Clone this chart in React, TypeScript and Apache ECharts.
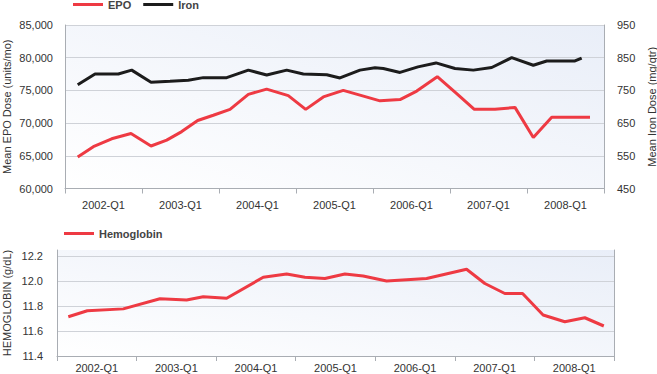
import React, { useEffect, useRef } from "react";
import * as echarts from "echarts";

// Year labels shown under each panel
const yearLabels = ["2002-Q1", "2003-Q1", "2004-Q1", "2005-Q1", "2006-Q1", "2007-Q1", "2008-Q1"];

// EPO (units/mo): [time in decimal years, value]
const epoTime = [2002.165, 2002.368, 2002.606, 2002.857, 2003.117, 2003.321, 2003.516, 2003.723, 2003.926, 2004.143, 2004.381, 2004.619, 2004.9, 2005.126, 2005.355, 2005.614, 2005.853, 2006.091, 2006.351, 2006.568, 2006.835, 2007.087, 2007.316, 2007.584, 2007.844, 2008.082, 2008.321, 2008.558, 2008.818];
const epoValues = [64800, 66400, 67600, 68400, 66500, 67400, 68700, 70400, 71200, 72100, 74400, 75200, 74200, 72100, 74000, 75000, 74200, 73400, 73600, 74900, 77100, 74500, 72100, 72100, 72400, 67800, 70900, 70900, 70900];

// Iron (mg/qtr)
const ironTime = [2002.165, 2002.39, 2002.692, 2002.866, 2003.117, 2003.364, 2003.601, 2003.796, 2004.1, 2004.381, 2004.619, 2004.879, 2005.095, 2005.399, 2005.571, 2005.831, 2006.026, 2006.134, 2006.351, 2006.584, 2006.818, 2007.065, 2007.303, 2007.542, 2007.801, 2008.082, 2008.256, 2008.623, 2008.71];
const ironValues = [767, 800, 800, 812, 775, 778, 781, 789, 789, 812, 797, 812, 800, 798, 788, 812, 819, 817, 805, 822, 834, 817, 812, 820, 850, 827, 840, 840, 849];

// Hemoglobin (g/dL)
const hbTime = [2002.142, 2002.381, 2002.833, 2003.294, 2003.629, 2003.838, 2004.132, 2004.592, 2004.886, 2005.116, 2005.367, 2005.618, 2005.848, 2006.142, 2006.645, 2007.147, 2007.377, 2007.628, 2007.851, 2008.109, 2008.382, 2008.633, 2008.872];
const hbValues = [11.714, 11.762, 11.777, 11.858, 11.848, 11.874, 11.862, 12.03, 12.056, 12.03, 12.02, 12.056, 12.04, 12.0, 12.02, 12.094, 11.98, 11.9, 11.9, 11.728, 11.674, 11.706, 11.64];

const RED = "#ee3a43";
const BLACK = "#1c1c1c";
const TEXT = "#333333";
const AXIS = "#a9adb3";
const GRIDLINE = "#cfd2d8";
const FONT = "Liberation Sans, Arial, Helvetica, sans-serif";

const zip = (xs: number[], ys: number[]) => xs.map((x, i) => [x, ys[i]]);

const bg = () =>
  new echarts.graphic.LinearGradient(0, 1, 1, 0, [
    { offset: 0, color: "#ffffff" },
    { offset: 1, color: "#e9eef8" },
  ]);

export default function App() {
  const ref = useRef<HTMLDivElement>(null);
  useEffect(() => {
    if (!ref.current) return;
    const chart = echarts.init(ref.current, null, { renderer: "svg" });
    const catAxis = (gridIndex: number, margin: number) => ({
      type: "category",
      gridIndex,
      data: yearLabels,
      boundaryGap: true,
      axisLine: { show: true, lineStyle: { color: AXIS, width: 1 } },
      axisTick: { show: true, length: 5, lineStyle: { color: AXIS } },
      axisLabel: { margin, color: TEXT, fontSize: 11, fontFamily: FONT, interval: 0 },
      splitLine: { show: false },
    });
    const valXAxis = (gridIndex: number) => ({
      type: "value",
      gridIndex,
      min: 2002,
      max: 2009,
      show: false,
    });
    const nameStyle = { color: TEXT, fontSize: 11, fontFamily: FONT, lineHeight: 11 };
    chart.setOption({
      animation: false,
      textStyle: { fontFamily: FONT },
      legend: [
        {
          data: ["EPO", "Iron"],
          left: 73,
          top: -1,
          icon: "rect",
          itemWidth: 30,
          itemHeight: 3,
          itemGap: 12,
          padding: 0,
          textStyle: { fontSize: 11, fontWeight: "bold", color: "#444", fontFamily: FONT },
        },
        {
          data: ["Hemoglobin"],
          left: 64,
          top: 228,
          icon: "rect",
          itemWidth: 30,
          itemHeight: 3,
          padding: 0,
          textStyle: { fontSize: 11, fontWeight: "bold", color: "#444", fontFamily: FONT },
        },
      ],
      grid: [
        {
          left: 65,
          right: 53,
          top: 25,
          height: 163.5,
          show: true,
          borderWidth: 0,
          backgroundColor: bg(),
          containLabel: false,
          outerBoundsMode: "none",
        },
        {
          left: 57,
          right: 43,
          top: 250,
          height: 106,
          show: true,
          borderWidth: 0,
          backgroundColor: bg(),
          containLabel: false,
          outerBoundsMode: "none",
        },
      ],
      xAxis: [catAxis(0, 11), valXAxis(0), catAxis(1, 6), valXAxis(1)],
      yAxis: [
        {
          type: "value",
          gridIndex: 0,
          min: 60000,
          max: 85000,
          interval: 5000,
          name: "Mean EPO Dose (units/mo)",
          nameLocation: "middle",
          nameRotate: 90,
          nameGap: 53,
          nameMoveOverlap: false,
          nameTextStyle: nameStyle,
          axisLine: { show: true, lineStyle: { color: AXIS } },
          axisTick: { show: false },
          axisLabel: {
            margin: 12,
            color: TEXT,
            fontSize: 11,
            fontFamily: FONT,
            formatter: (v: number) => v.toLocaleString("en-US"),
          },
          splitLine: { show: true, lineStyle: { color: GRIDLINE } },
        },
        {
          type: "value",
          gridIndex: 0,
          position: "right",
          min: 450,
          max: 950,
          interval: 100,
          name: "Mean Iron Dose (mg/qtr)",
          nameLocation: "middle",
          nameRotate: 90,
          nameGap: 42,
          nameMoveOverlap: false,
          nameTextStyle: nameStyle,
          axisLine: { show: true, lineStyle: { color: AXIS } },
          axisTick: { show: false },
          axisLabel: { margin: 13, color: TEXT, fontSize: 11, fontFamily: FONT },
          splitLine: { show: false },
        },
        {
          type: "value",
          gridIndex: 1,
          min: 11.4,
          max: 12.248,
          interval: 0.2,
          name: "HEMOGLOBIN (g/dL)",
          nameLocation: "middle",
          nameRotate: 90,
          nameGap: 45,
          nameMoveOverlap: false,
          nameTextStyle: nameStyle,
          axisLine: { show: true, lineStyle: { color: AXIS } },
          axisTick: { show: false },
          axisLabel: {
            margin: 14,
            color: TEXT,
            fontSize: 11,
            fontFamily: FONT,
            showMaxLabel: false,
            formatter: (v: number) => v.toFixed(1),
          },
          splitLine: { show: true, showMaxLine: false, lineStyle: { color: GRIDLINE } },
        },
        {
          type: "value",
          gridIndex: 1,
          position: "right",
          min: 11.4,
          max: 12.248,
          axisLine: { show: true, lineStyle: { color: AXIS } },
          axisTick: { show: false },
          axisLabel: { show: false },
          splitLine: { show: false },
        },
      ],
      series: [
        {
          name: "EPO",
          type: "line",
          xAxisIndex: 1,
          yAxisIndex: 0,
          data: zip(epoTime, epoValues),
          showSymbol: false,
          symbol: "none",
          lineStyle: { color: RED, width: 3 },
          itemStyle: { color: RED },
          z: 3,
        },
        {
          name: "Iron",
          type: "line",
          xAxisIndex: 1,
          yAxisIndex: 1,
          data: zip(ironTime, ironValues),
          showSymbol: false,
          symbol: "none",
          lineStyle: { color: BLACK, width: 3 },
          itemStyle: { color: BLACK },
          z: 3,
        },
        {
          name: "Hemoglobin",
          type: "line",
          xAxisIndex: 3,
          yAxisIndex: 2,
          data: zip(hbTime, hbValues),
          showSymbol: false,
          symbol: "none",
          lineStyle: { color: RED, width: 3 },
          itemStyle: { color: RED },
          z: 3,
        },
      ],
    });
    return () => chart.dispose();
  }, []);
  return (
    <div
      ref={ref}
      style={{ width: 657, height: 374, position: "absolute", left: 0, top: 0 }}
    />
  );
}
